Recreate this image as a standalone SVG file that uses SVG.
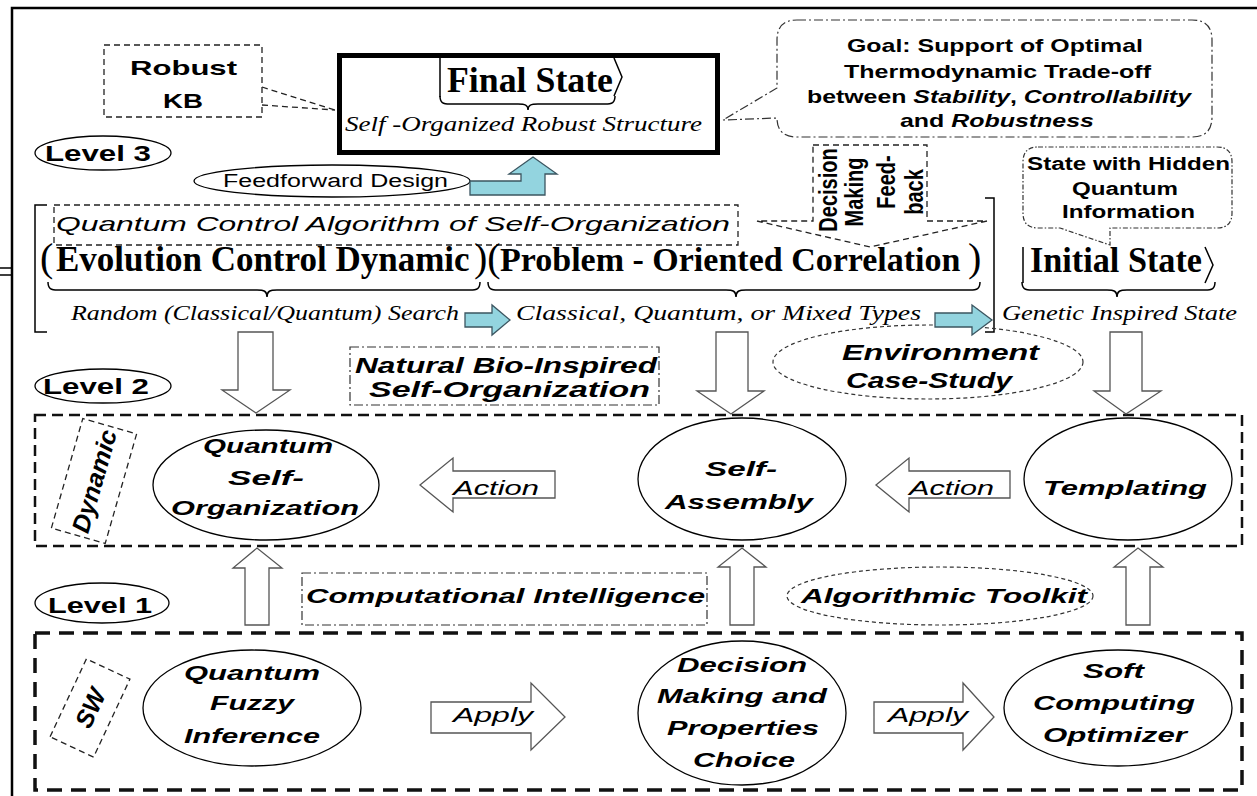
<svg xmlns="http://www.w3.org/2000/svg" width="1257" height="796" viewBox="0 0 1257 796">
<defs>
<style>
.s{font-family:"Liberation Sans",Arial,sans-serif;fill:#000}
.b{font-weight:bold}
.i{font-style:italic}
.t{font-family:"Liberation Serif","Times New Roman",serif;fill:#000}
.node{fill:#fff;stroke:#000;stroke-width:1.3}
.blk{fill:#fff;stroke:#555;stroke-width:1.3}
.cy{fill:#93d4df;stroke:#3b5560;stroke-width:1.3}
.d1{fill:none;stroke:#222;stroke-width:1.3;stroke-dasharray:6 4}
.dd{fill:none;stroke:#333;stroke-width:1.2;stroke-dasharray:9 3 2 3}
.dd2{fill:none;stroke:#333;stroke-width:1.2;stroke-dasharray:5 2 1.5 2}
.fd{fill:none;stroke:#333;stroke-width:1.2;stroke-dasharray:4 3}
.L2{fill:none;stroke:#111;stroke-width:2.5;stroke-dasharray:11 6}
.L1{fill:none;stroke:#111;stroke-width:3.5;stroke-dasharray:15 9}
.ln{fill:none;stroke:#000;stroke-width:1.5}
</style>
</defs>
<rect width="1257" height="796" fill="#fff"/>
<path d="M12,796 V8 H1257" fill="none" stroke="#000" stroke-width="2.5"/>
<path d="M0,268 H12 M0,275 H12" class="ln"/>

<g id="robust-kb">
<rect x="104" y="45" width="158" height="72" class="d1"/>
<path d="M262,87 L335,110 M262,105 L335,110" class="d1"/>
<text x="130" y="75" font-size="21" textLength="107" lengthAdjust="spacingAndGlyphs" class="s b">Robust</text>
<text x="163" y="108" font-size="21" textLength="40" lengthAdjust="spacingAndGlyphs" class="s b">KB</text>
</g>

<g id="final-state">
<rect x="339.5" y="55.5" width="378" height="97" fill="#fff" stroke="#000" stroke-width="5"/>
<path d="M440,58 V97" class="ln"/>
<path d="M614,58 L622,77 L614,96" class="ln"/>
<text x="447" y="92" font-size="35" textLength="166" lengthAdjust="spacingAndGlyphs" class="t b">Final State</text>
<path d="M440,96 C440,103 443,104 450,104 L518,104 C525,104 528,105 528,110 C528,105 531,104 538,104 L605,104 C612,104 615,103 615,96" class="ln"/>
<text x="345" y="131" font-size="22" textLength="357" lengthAdjust="spacingAndGlyphs" class="t i">Self -Organized Robust Structure</text>
</g>

<g id="goal">
<path d="M797,20 H1192 Q1212,20 1212,40 V117 Q1212,137 1192,137 H797 Q777,137 777,118 L723,120 L777,88 V40 Q777,20 797,20 Z" class="dd"/>
<text x="847" y="52" font-size="18.5" textLength="296" lengthAdjust="spacingAndGlyphs" class="s b">Goal: Support of Optimal</text>
<text x="844" y="78" font-size="18.5" textLength="307" lengthAdjust="spacingAndGlyphs" class="s b">Thermodynamic Trade-off</text>
<text x="807" y="103" font-size="18.5" textLength="384" lengthAdjust="spacingAndGlyphs" class="s b">between <tspan class="i">Stability</tspan>, <tspan class="i">Controllability</tspan></text>
<text x="900" y="127" font-size="18.5" textLength="194" lengthAdjust="spacingAndGlyphs" class="s b">and <tspan class="i">Robustness</tspan></text>
</g>

<g id="level3">
<ellipse cx="103" cy="153" rx="68" ry="17" class="node"/>
<text x="45" y="161" font-size="22" textLength="106" lengthAdjust="spacingAndGlyphs" class="s b">Level 3</text>
</g>

<g id="feedforward">
<ellipse cx="332" cy="181" rx="138" ry="16" class="node"/>
<text x="223" y="187" font-size="18" textLength="225" lengthAdjust="spacingAndGlyphs" class="s">Feedforward Design</text>
</g>

<g id="decision-feedback">
<path d="M813,145 H927 V221 H987 L870,247 L757,221 H813 Z" class="d1"/>
<text transform="translate(837,190) scale(1.3,1) rotate(-90)" text-anchor="middle" font-size="20" class="s b">Decision</text>
<text transform="translate(863,192) scale(1.3,1) rotate(-90)" text-anchor="middle" font-size="20" class="s b">Making</text>
<text transform="translate(895,182) scale(1.3,1) rotate(-90)" text-anchor="middle" font-size="20" class="s b">Feed-</text>
<text transform="translate(923,192) scale(1.3,1) rotate(-90)" text-anchor="middle" font-size="20" class="s b">back</text>
</g>

<g id="hidden-state">
<path d="M1038,147 H1217 Q1232,147 1232,162 V213 Q1232,228 1217,228 H1110 L1110,245 L1060,228 H1038 Q1023,228 1023,213 V162 Q1023,147 1038,147 Z" class="dd2"/>
<text x="1027" y="170" font-size="18" textLength="203" lengthAdjust="spacingAndGlyphs" class="s b">State with Hidden</text>
<text x="1072" y="195" font-size="18" textLength="106" lengthAdjust="spacingAndGlyphs" class="s b">Quantum</text>
<text x="1062" y="218" font-size="18" textLength="133" lengthAdjust="spacingAndGlyphs" class="s b">Information</text>
</g>

<g id="algorithm">
<path d="M47,205 H35 V332 H47" class="ln"/>
<path d="M985,198 H994 V332 H985" class="ln"/>
<rect x="54" y="205" width="684" height="40" class="d1"/>
<text x="56" y="231" font-size="21" textLength="674" lengthAdjust="spacingAndGlyphs" class="s i">Quantum Control Algorithm of  Self-Organization</text>
<text x="40" y="271" font-size="40" class="t">(</text>
<text x="56" y="271" font-size="35" class="t b">Evolution Control Dynamic</text>
<text x="474" y="271" font-size="40" class="t">)(</text>
<text x="500" y="271" font-size="34" class="t b">Problem - Oriented Correlation</text>
<text x="968" y="271" font-size="40" class="t">)</text>
<path d="M48,282 C48,289 51,290 58,290 L257,290 C264,290 267,291 267,297 C267,291 270,290 277,290 L470,290 C477,290 480,289 480,282" class="ln"/>
<path d="M488,282 C488,289 491,290 498,290 L726,290 C733,290 736,291 736,297 C736,291 739,290 746,290 L970,290 C977,290 980,289 980,282" class="ln"/>
<text x="71" y="320" font-size="22" textLength="388" lengthAdjust="spacingAndGlyphs" class="t i">Random (Classical/Quantum) Search</text>
<text x="516" y="320" font-size="22" textLength="405" lengthAdjust="spacingAndGlyphs" class="t i">Classical, Quantum, or Mixed Types</text>
</g>

<g id="initial-state">
<path d="M1023,247 V283" class="ln"/>
<path d="M1205,247 L1213,265 L1205,283" class="ln"/>
<text x="1030" y="272" font-size="35" textLength="172" lengthAdjust="spacingAndGlyphs" class="t b">Initial State</text>
<path d="M1022,282 C1022,289 1025,290 1032,290 L1107,290 C1114,290 1117,291 1117,297 C1117,291 1120,290 1127,290 L1205,290 C1212,290 1215,289 1215,282" class="ln"/>
<text x="1002" y="320" font-size="22" textLength="235" lengthAdjust="spacingAndGlyphs" class="t i">Genetic Inspired State</text>
</g>

<g id="natural-bio">
<rect x="350" y="347" width="309" height="58" class="dd"/>
<text x="355" y="373" font-size="22" textLength="302" lengthAdjust="spacingAndGlyphs" class="s b i">Natural  Bio-Inspired</text>
<text x="369" y="397" font-size="22" textLength="281" lengthAdjust="spacingAndGlyphs" class="s b i">Self-Organization</text>
</g>

<g id="environment">
<ellipse cx="928" cy="362" rx="155" ry="37" class="fd" fill="none"/>
<text x="842" y="360" font-size="22" textLength="197" lengthAdjust="spacingAndGlyphs" class="s b i">Environment</text>
<text x="846" y="388" font-size="22" textLength="166" lengthAdjust="spacingAndGlyphs" class="s b i">Case-Study</text>
</g>

<g id="level2">
<ellipse cx="103" cy="386" rx="68" ry="17" class="node"/>
<text x="43" y="394" font-size="22" textLength="106" lengthAdjust="spacingAndGlyphs" class="s b">Level 2</text>
</g>

<g id="dynamic-box">
<rect x="35" y="415" width="1207" height="131" class="L2"/>
<g transform="translate(94,481) rotate(-74)">
<rect x="-57" y="-28" width="114" height="56" class="d1"/>
<text x="0" y="9" text-anchor="middle" font-size="25" textLength="106" lengthAdjust="spacingAndGlyphs" class="s b i">Dynamic</text>
</g>
</g>

<g id="quantum-self-organization">
<ellipse cx="266" cy="485" rx="113" ry="55" class="node"/>
<text x="203" y="453" font-size="21" textLength="130" lengthAdjust="spacingAndGlyphs" class="s b i">Quantum</text>
<text x="228" y="485" font-size="21" textLength="76" lengthAdjust="spacingAndGlyphs" class="s b i">Self-</text>
<text x="171" y="515" font-size="21" textLength="188" lengthAdjust="spacingAndGlyphs" class="s b i">Organization</text>
</g>

<g id="self-assembly">
<ellipse cx="742" cy="479" rx="104" ry="61" class="node"/>
<text x="705" y="476" font-size="21" textLength="72" lengthAdjust="spacingAndGlyphs" class="s b i">Self-</text>
<text x="665" y="509" font-size="21" textLength="148" lengthAdjust="spacingAndGlyphs" class="s b i">Assembly</text>
</g>

<g id="templating">
<ellipse cx="1128" cy="479" rx="104" ry="61" class="node"/>
<text x="1043" y="495" font-size="21" textLength="164" lengthAdjust="spacingAndGlyphs" class="s b i">Templating</text>
</g>

<g id="level1">
<ellipse cx="102" cy="603" rx="67" ry="20" class="node"/>
<text x="48" y="613" font-size="22" textLength="104" lengthAdjust="spacingAndGlyphs" class="s b">Level 1</text>
</g>

<g id="computational-intelligence">
<rect x="302" y="573" width="405" height="52" class="dd"/>
<text x="306" y="603" font-size="21" textLength="399" lengthAdjust="spacingAndGlyphs" class="s b i">Computational Intelligence</text>
</g>

<g id="algorithmic-toolkit">
<ellipse cx="940" cy="596" rx="153" ry="29" class="fd"/>
<text x="801" y="603" font-size="21" textLength="286" lengthAdjust="spacingAndGlyphs" class="s b i">Algorithmic Toolkit</text>
</g>

<g id="sw-box">
<rect x="35" y="633" width="1207" height="157" class="L1"/>
<g transform="translate(90,708) rotate(-65)">
<rect x="-43" y="-24" width="86" height="48" class="d1"/>
<text x="0" y="9" text-anchor="middle" font-size="25" class="s b i">SW</text>
</g>
</g>

<g id="quantum-fuzzy-inference">
<ellipse cx="252" cy="708" rx="109" ry="58" class="node"/>
<text x="184" y="680" font-size="21" textLength="136" lengthAdjust="spacingAndGlyphs" class="s b i">Quantum</text>
<text x="210" y="710" font-size="21" textLength="84" lengthAdjust="spacingAndGlyphs" class="s b i">Fuzzy</text>
<text x="184" y="743" font-size="21" textLength="136" lengthAdjust="spacingAndGlyphs" class="s b i">Inference</text>
</g>

<g id="decision-making">
<ellipse cx="742" cy="713" rx="104" ry="72" class="node"/>
<text x="677" y="672" font-size="21" textLength="130" lengthAdjust="spacingAndGlyphs" class="s b i">Decision</text>
<text x="657" y="703" font-size="21" textLength="170" lengthAdjust="spacingAndGlyphs" class="s b i">Making and</text>
<text x="667" y="735" font-size="21" textLength="152" lengthAdjust="spacingAndGlyphs" class="s b i">Properties</text>
<text x="693" y="767" font-size="21" textLength="102" lengthAdjust="spacingAndGlyphs" class="s b i">Choice</text>
</g>

<g id="soft-computing">
<ellipse cx="1118" cy="708" rx="114" ry="58" class="node"/>
<text x="1083" y="678" font-size="21" textLength="61" lengthAdjust="spacingAndGlyphs" class="s b i">Soft</text>
<text x="1033" y="710" font-size="21" textLength="162" lengthAdjust="spacingAndGlyphs" class="s b i">Computing</text>
<text x="1043" y="742" font-size="21" textLength="144" lengthAdjust="spacingAndGlyphs" class="s b i">Optimizer</text>
</g>

<g id="connectors">
<path d="M470,181 H521 V174 H509 L533,157 L557,174 H545 V195 H470 Z" class="cy"/>
<path d="M465,313 H492 V305 L510,320 L492,335 V327 H465 Z" class="cy"/>
<path d="M935,313 H972 V305 L992,320 L972,335 V327 H935 Z" class="cy"/>
<path d="M238,332 H273 V390 H290 L256,413 L222,390 H238 Z" class="blk"/>
<path d="M716,332 H748 V391 H764 L731,414 L697,391 H716 Z" class="blk"/>
<path d="M1110,332 H1142 V391 H1161 L1126,414 L1094,391 H1110 Z" class="blk"/>
<path d="M555,471 V498 H453 V512 L420,485 L453,458 V471 Z" class="blk"/>
<text x="453" y="495" font-size="21" textLength="86" lengthAdjust="spacingAndGlyphs" class="s i">Action</text>
<path d="M1010,471 V498 H909 V512 L876,485 L909,458 V471 Z" class="blk"/>
<text x="909" y="495" font-size="21" textLength="85" lengthAdjust="spacingAndGlyphs" class="s i">Action</text>
<path d="M245,625 V568 H233 L257,548 L282,568 H269 V625 Z" class="blk"/>
<path d="M730,625 V567 H718 L742,548 L766,567 H754 V625 Z" class="blk"/>
<path d="M1126,625 V567 H1114 L1138,548 L1163,567 H1150 V625 Z" class="blk"/>
<path d="M431,702 H531 V683 L565,717 L531,750 V733 H431 Z" class="blk"/>
<text x="453" y="722" font-size="21" textLength="80" lengthAdjust="spacingAndGlyphs" class="s i">Apply</text>
<path d="M874,702 H963 V683 L994,717 L963,750 V733 H874 Z" class="blk"/>
<text x="888" y="722" font-size="21" textLength="80" lengthAdjust="spacingAndGlyphs" class="s i">Apply</text>
</g>
</svg>
